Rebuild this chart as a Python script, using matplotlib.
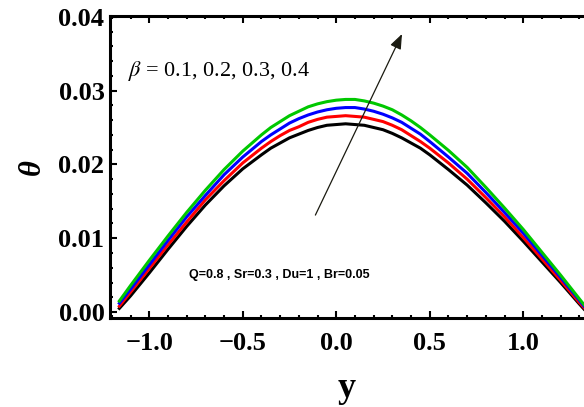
import numpy as np
import matplotlib
matplotlib.use("Agg")
import matplotlib.pyplot as plt
from matplotlib.ticker import MultipleLocator, FuncFormatter

plt.rcParams["mathtext.fontset"] = "stix"

# values
y_pos = [-1.16, -1.10, -1.00, -0.90, -0.80, -0.70, -0.60, -0.50, -0.40, -0.35,
         -0.30, -0.25, -0.20, -0.15, -0.10, -0.05, 0.00, 0.05, 0.10, 0.15,
         0.20, 0.25, 0.30, 0.35, 0.40, 0.45, 0.50, 0.60, 0.70, 0.80,
         0.90, 1.00, 1.10, 1.20, 1.30, 1.325]

theta_01 = [0.0005, 0.0022, 0.0053, 0.0085, 0.0116, 0.0145, 0.0171, 0.0194, 0.0213, 0.0222,
            0.0229, 0.0236, 0.0241, 0.0246, 0.0250, 0.0253, 0.0254, 0.0255, 0.0254, 0.0253,
            0.0250, 0.0247, 0.0242, 0.0236, 0.0229, 0.0222, 0.0213, 0.0193, 0.0172, 0.0148,
            0.0123, 0.0096, 0.0068, 0.0040, 0.0011, 0.0004]
theta_02 = [0.0008, 0.0027, 0.0059, 0.0091, 0.0122, 0.0152, 0.0178, 0.0202, 0.0222, 0.0231,
            0.0239, 0.0246, 0.0251, 0.0257, 0.0261, 0.0264, 0.0265, 0.0266, 0.0265, 0.0264,
            0.0261, 0.0258, 0.0253, 0.0247, 0.0239, 0.0231, 0.0222, 0.0202, 0.0180, 0.0155,
            0.0129, 0.0101, 0.0072, 0.0043, 0.0013, 0.0006]
theta_03 = [0.0012, 0.0031, 0.0064, 0.0097, 0.0129, 0.0158, 0.0186, 0.0210, 0.0231, 0.0240,
            0.0248, 0.0256, 0.0262, 0.0267, 0.0271, 0.0274, 0.0276, 0.0277, 0.0277, 0.0275,
            0.0272, 0.0268, 0.0263, 0.0257, 0.0249, 0.0241, 0.0231, 0.0210, 0.0188, 0.0162,
            0.0135, 0.0107, 0.0077, 0.0047, 0.0016, 0.0008]
theta_04 = [0.0015, 0.0036, 0.0070, 0.0103, 0.0135, 0.0165, 0.0193, 0.0218, 0.0240, 0.0250,
            0.0258, 0.0266, 0.0272, 0.0278, 0.0282, 0.0285, 0.0287, 0.0288, 0.0288, 0.0286,
            0.0283, 0.0279, 0.0274, 0.0267, 0.0259, 0.0250, 0.0240, 0.0219, 0.0196, 0.0169,
            0.0141, 0.0112, 0.0081, 0.0050, 0.0018, 0.0010]

series = [theta_01, theta_02, theta_03, theta_04]
colors = ["black", "red", "blue", "#00c800"]


def fmt(digits):
    return FuncFormatter(lambda v, pos: f"{v:.{digits}f}".replace("-", "\u2212"))


fig = plt.figure(figsize=(5.84, 4.07), dpi=100)
ax = fig.add_axes([110 / 584, 1 - 318 / 407, 1 - 110 / 584, (318 - 16) / 407])

for vals, c in zip(series, colors):
    ax.plot(y_pos, vals, color=c, lw=2.2, solid_joinstyle="round")

ax.set_xlim(-1.21, 1.325)
ax.set_ylim(-0.0008, 0.0401)

ax.xaxis.set_major_locator(MultipleLocator(0.5))
ax.xaxis.set_minor_locator(MultipleLocator(0.1))
ax.yaxis.set_major_locator(MultipleLocator(0.01))
ax.yaxis.set_minor_locator(MultipleLocator(0.002))
ax.xaxis.set_major_formatter(fmt(1))
ax.yaxis.set_major_formatter(fmt(2))

ax.tick_params(which="both", direction="in", top=True, right=False, width=1.5)
ax.tick_params(which="major", length=5, labelsize=19)
ax.tick_params(axis="x", which="major", pad=10)
ax.tick_params(axis="y", which="major", pad=4)
ax.tick_params(which="minor", length=2.5)
for lab in ax.get_xticklabels() + ax.get_yticklabels():
    lab.set_fontfamily("Liberation Serif")
    lab.set_fontweight("bold")

for s in ["left", "bottom", "top"]:
    ax.spines[s].set_linewidth(2.2)
ax.spines["right"].set_visible(False)

ax.set_xlabel("y", fontsize=26, fontweight="bold", family="Liberation Serif", labelpad=12)
ax.set_ylabel("\u03b8", fontsize=22, fontweight="bold", fontstyle="italic",
              family="Liberation Serif", labelpad=8)

ax.text(-1.115, 0.0326, r"$\beta$ = 0.1, 0.2, 0.3, 0.4", fontsize=16,
        family="Liberation Serif", va="center", ha="left")
ax.text(-0.785, 0.0050, "Q=0.8 , Sr=0.3 , Du=1 , Br=0.05", fontsize=9,
        family="Liberation Sans", fontweight="bold", va="center", ha="left")

ax.annotate("", xy=(0.358, 0.0380), xytext=(-0.118, 0.0128),
            arrowprops=dict(arrowstyle="-|>,head_length=0.9,head_width=0.35",
                            color="#1a1a10", lw=0.9))

fig.savefig("out.png", dpi=100)
